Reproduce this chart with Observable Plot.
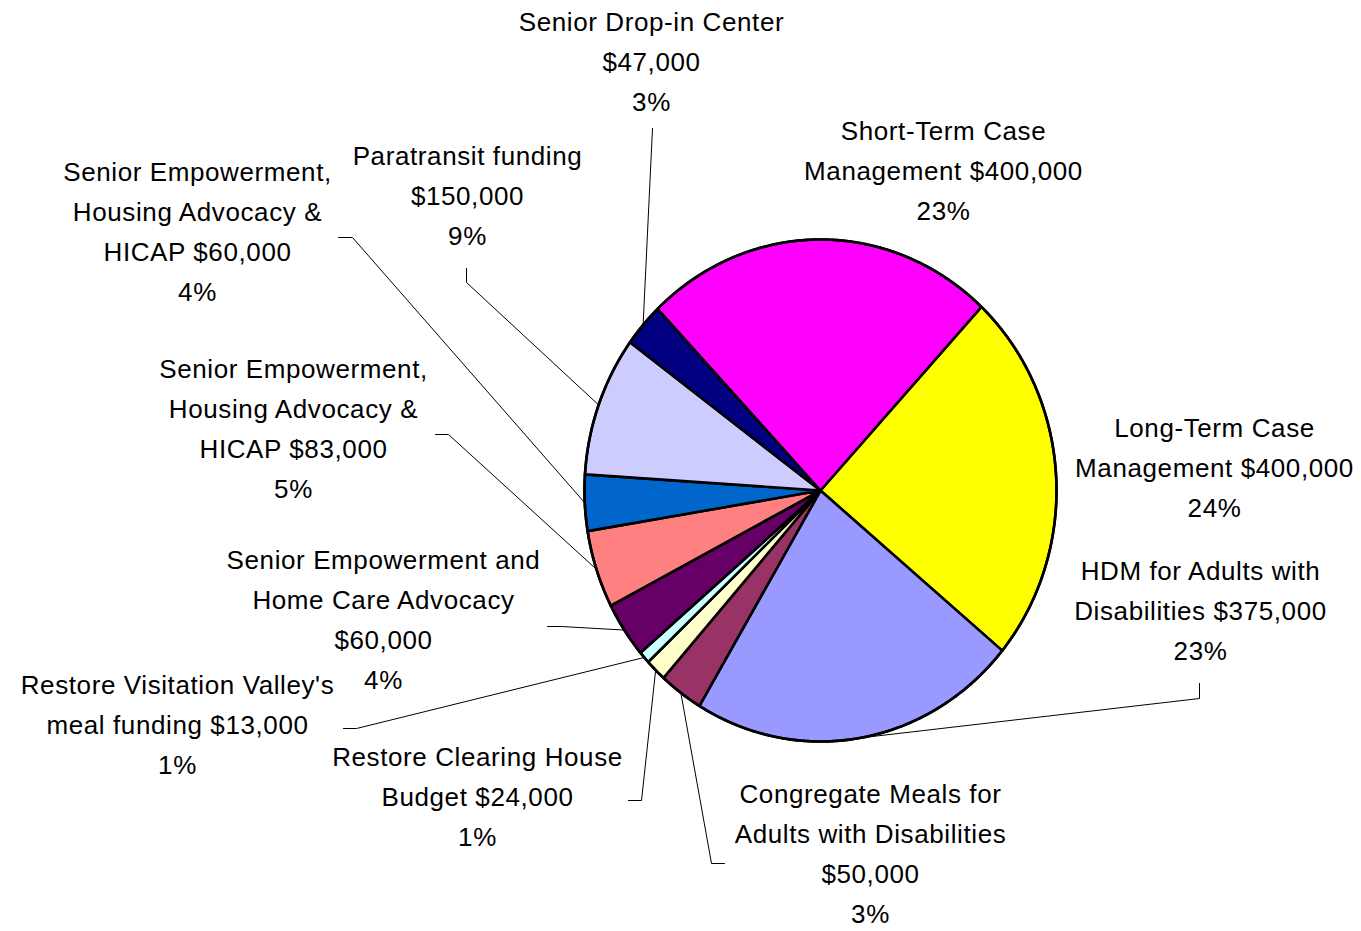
<!DOCTYPE html>
<html><head><meta charset="utf-8">
<script src="https://cdn.jsdelivr.net/npm/d3@7"></script>
<script src="https://cdn.jsdelivr.net/npm/@observablehq/plot@0.6"></script>
<style>body{margin:0;background:#fff}</style>
</head><body><div id="chart"></div>
<script>
// ---- data (clockwise order) ----
const categories = [
  "Long-Term Case\nManagement",
  "HDM for Adults with\nDisabilities",
  "Congregate Meals for\nAdults with Disabilities",
  "Restore Clearing House\nBudget",
  "Restore Visitation Valley's\nmeal funding",
  "Senior Empowerment and\nHome Care Advocacy",
  "Senior Empowerment,\nHousing Advocacy &\nHICAP",
  "Senior Empowerment,\nHousing Advocacy &\nHICAP",
  "Paratransit funding",
  "Senior Drop-in Center",
  "Short-Term Case\nManagement"
];
const values = [400000, 375000, 50000, 24000, 13000, 60000, 83000, 60000, 150000, 47000, 400000];
const percents = ["24%", "23%", "3%", "1%", "1%", "4%", "5%", "4%", "9%", "3%", "23%"];
const colors = ["#FFFF00", "#9999FF", "#993366", "#FFFFCC", "#CCFFFF", "#660066", "#FF8080", "#0066CC", "#CCCCFF", "#000080", "#FF00FF"];
// separator between name and amount in each label
const amountSep = [" ", " ", "\n", " ", " ", "\n", " ", " ", "\n", "\n", " "];

// ---- layout ----
const W = 1361, H = 931;
const CX = 820, CY = 490, RX = 236, RY = 251;
const startDeg = 43;
// label block centres (pixels)
const labelPos = [[1214,468],[1200,611],[870,854],[477,797],[177,725],[383,620],[293,429],[197,232],[467,196],[651,62],[943,171]];
// leader line elbow points (pixels), ending at slice mid-angle on the rim
const leaderPts = {
  1: [[1199,683],[1199,698]],
  2: [[724,863],[711,863]],
  3: [[628,800],[641,800]],
  4: [[343,728],[356,728]],
  5: [[547,626],[561,626]],
  6: [[435,434],[448,434]],
  7: [[338,237],[352,237]],
  8: [[466,268],[466,282]],
  9: [[652,128]]
};

const ux = px => (px - CX) / RX;
const uy = py => (py - CY) / RY;

const total = d3.sum(values);
let acc = startDeg * Math.PI / 180;
const slices = values.map((v, i) => {
  const a0 = acc, a1 = acc + v / total * 2 * Math.PI;
  acc = a1;
  return {i, a0, a1, mid: (a0 + a1) / 2};
});

const polyPts = [];
for (const s of slices) {
  polyPts.push({i: s.i, x: 0, y: 0});
  const n = Math.max(2, Math.ceil((s.a1 - s.a0) / (Math.PI / 360)));
  for (let k = 0; k <= n; k++) {
    const a = s.a0 + (s.a1 - s.a0) * k / n;
    polyPts.push({i: s.i, x: Math.sin(a), y: -Math.cos(a)});
  }
  polyPts.push({i: s.i, x: 0, y: 0});
}

const rimPts = [];
for (let k = 0; k <= 720; k++) {
  const a = k / 720 * 2 * Math.PI;
  rimPts.push({x: Math.sin(a), y: -Math.cos(a)});
}

const leaders = [];
for (const key of Object.keys(leaderPts)) {
  const i = +key;
  for (const [px, py] of leaderPts[key]) leaders.push({i, x: ux(px), y: uy(py)});
  const m = slices[i].mid;
  leaders.push({i, x: Math.sin(m), y: -Math.cos(m)});
}

const fmt = d3.format(",");
const labels = categories.map((c, i) => ({
  x: ux(labelPos[i][0]),
  y: uy(labelPos[i][1]),
  text: c + amountSep[i] + "$" + fmt(values[i]) + "\n" + percents[i]
}));

const chart = Plot.plot({
  width: W, height: H,
  margin: 0,
  x: {domain: [-1, 1], range: [CX - RX, CX + RX], axis: null},
  y: {domain: [-1, 1], range: [CY - RY, CY + RY], axis: null},
  color: {type: "identity"},
  style: {fontFamily: "'Liberation Sans', Arial, sans-serif", background: "#fff", letterSpacing: "0.6px"},
  marks: [
    Plot.line(leaders, {x: "x", y: "y", z: "i", stroke: "#000", strokeWidth: 1}),
    Plot.line(polyPts, {x: "x", y: "y", z: "i", fill: d => colors[d.i], stroke: "#000", strokeWidth: 2.6, strokeLinejoin: "round"}),
    Plot.line(rimPts, {x: "x", y: "y", stroke: "#000", strokeWidth: 2.6}),
    Plot.text(labels, {x: "x", y: "y", text: "text", fontSize: 26, lineHeight: 1.54, dy: -4, fill: "#000", textAnchor: "middle"})
  ]
});
document.getElementById("chart").appendChild(chart);
</script>
</body></html>
